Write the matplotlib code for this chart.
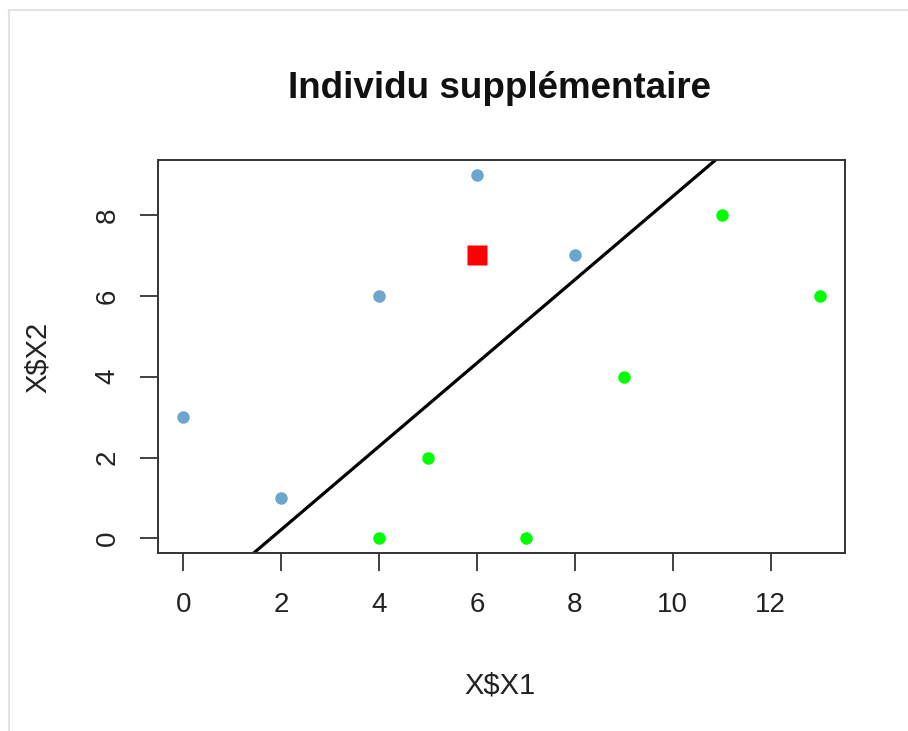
import matplotlib
matplotlib.use('Agg')
import matplotlib.pyplot as plt
from matplotlib.lines import Line2D
import numpy as np

plt.rcParams['font.family'] = ['Liberation Sans', 'DejaVu Sans']

# class 1 (blue) and class 2 (green) points
x1_blue = [0, 2, 4, 6, 8]
x2_blue = [3, 1, 6, 9, 7]
x1_green = [4, 5, 7, 9, 11, 13]
x2_green = [0, 2, 0, 4, 8, 6]

# supplementary individual
x1_new = [6]
x2_new = [7]

# separating line y = a + b*x
line_a = -1.84
line_b = 1.03

x_ticks = [0, 2, 4, 6, 8, 10, 12]
y_ticks = [0, 2, 4, 6, 8]

fig = plt.figure(figsize=(9.08, 7.31), dpi=100)
ax = fig.add_axes([158 / 908, 1 - 553 / 731, (845 - 158) / 908, (553 - 160) / 731])

ax.plot(x1_blue, x2_blue, 'o', color='#6CA6CD', ms=9, mec='none', zorder=3)
ax.plot(x1_green, x2_green, 'o', color='#00FF00', ms=9, mec='none', zorder=3)
ax.plot(x1_new, x2_new, 's', color='red', ms=15, mec='none', zorder=4)
ax.axline((0, line_a), slope=line_b, color='black', lw=2.3, zorder=2)

# R-style 4% padding around the data range
all_x = x1_blue + x1_green
all_y = x2_blue + x2_green
dx = (max(all_x) - min(all_x)) * 0.04
dy = (max(all_y) - min(all_y)) * 0.04
ax.set_xlim(min(all_x) - dx, max(all_x) + dx)
ax.set_ylim(min(all_y) - dy, max(all_y) + dy)

ax.set_xticks(x_ticks)
ax.set_yticks(y_ticks)
ax.tick_params(axis='both', length=13, width=1.3, color='#333333', labelsize=20, labelcolor='#222222')
ax.tick_params(axis='x', pad=15)
ax.tick_params(axis='y', pad=14)
for lab in ax.get_yticklabels():
    lab.set_rotation(90)
    lab.set_va('center')
for s in ax.spines.values():
    s.set_linewidth(1.4)
    s.set_color('#333333')

fig.text(500 / 908, 1 - 88 / 731, 'Individu supplémentaire', ha='center', va='center',
         fontsize=26.5, fontweight='bold', color='#111111')
fig.text(500 / 908, 1 - 685 / 731, 'X$X1', ha='center', va='center', fontsize=21, color='#222222')
fig.text(38 / 908, 1 - 357 / 731, 'X$X2', ha='center', va='center', rotation=90, fontsize=21, color='#222222')

# light frame around the figure
fig.add_artist(Line2D([9 / 908, 9 / 908], [0, 1 - 10 / 731], transform=fig.transFigure, color='#E3E3E3', lw=1.5))
fig.add_artist(Line2D([9 / 908, 1], [1 - 10 / 731, 1 - 10 / 731], transform=fig.transFigure, color='#E3E3E3', lw=1.5))

fig.savefig('out.png', dpi=100)
